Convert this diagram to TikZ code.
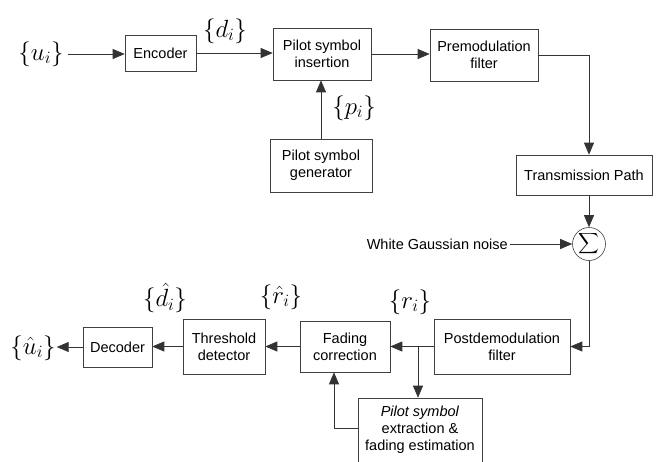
\documentclass[tikz,border=0pt]{standalone}
\usepackage{exscale}
\usepackage[no-math]{fontspec}
\setmainfont{Liberation Sans}
\usetikzlibrary{arrows.meta}
\begin{document}
\begin{tikzpicture}[x=1pt,y=-1pt,
  blk/.style={draw=black!75,line width=0.6pt,align=center,inner sep=0pt,font=\fontsize{14.5}{17}\selectfont},
  lbl/.style={inner sep=0pt,font=\fontsize{25}{27}\selectfont},
  conn/.style={draw=black!80,line width=0.7pt},
  arr/.style={conn,-{Triangle[length=12pt,width=10pt]}}]
\useasboundingbox (0,0) rectangle (656,461);
% blocks
\node[blk,minimum width=71pt,minimum height=36pt] (enc) at (160.5,53) {Encoder};
\node[blk,minimum width=98pt,minimum height=52pt] (ins) at (322,54) {Pilot symbol\\insertion};
\node[blk,minimum width=102pt,minimum height=53pt] (gen) at (321,165.5) {Pilot symbol\\generator};
\node[blk,minimum width=108pt,minimum height=52pt] (pre) at (484,55) {Premodulation\\filter};
\node[blk,minimum width=136pt,minimum height=40pt] (tp) at (584,175) {Transmission Path};
\node[draw=black!75,line width=0.6pt,circle,minimum size=33pt,inner sep=0pt,font=\fontsize{15}{15}\selectfont] (sig) at (589,244) {$\displaystyle\sum$};
\node[inner sep=0pt,anchor=east,font=\fontsize{14.5}{17}\selectfont] (noise) at (508,244) {White Gaussian noise};
\node[blk,minimum width=136pt,minimum height=55pt] (post) at (502,346.5) {Postdemodulation\\filter};
\node[blk,minimum width=90pt,minimum height=51pt] (fad) at (345,346.5) {Fading\\correction};
\node[blk,minimum width=124pt,minimum height=64pt] (ext) at (420,430) {\textit{Pilot symbol}\\extraction \&\\fading estimation};
\node[blk,minimum width=82pt,minimum height=55pt] (thr) at (224,346.5) {Threshold\\detector};
\node[blk,minimum width=69pt,minimum height=40pt] (dec) at (117.5,347) {Decoder};
% labels
\node[lbl] (uin) at (41,54) {$\{u_i\}$};
\node[lbl] (dl) at (225,31) {$\{d_i\}$};
\node[lbl] (pl) at (354,108) {$\{p_i\}$};
\node[lbl] (rl) at (410,302) {$\{r_i\}$};
\node[lbl] (rh) at (281,297) {$\{\hat{r}_i\}$};
\node[lbl] (dh) at (165,298) {$\{\hat{d}_i\}$};
\node[lbl] (uh) at (33,348) {$\{\hat{u}_i\}$};
% connectors
\draw[arr,shorten <=4pt] (uin.east) -- (enc.west |- uin.east);
\draw[arr] (enc.east) -- (enc.east -| ins.west);
\draw[arr] (gen.north) -- (gen.north |- ins.south);
\draw[arr] (ins.east) -- (ins.east -| pre.west);
\draw[arr] (pre.east) -| (sig |- tp.north);
\draw[arr] (sig |- tp.south) -- (sig.north);
\draw[arr,shorten <=2pt] (noise.east) -- (sig.west);
\draw[arr] (sig.south) |- (post.east);
\draw[arr] (post.west) -- (fad.east);
\coordinate (br) at (418,346.5);
\draw[arr] (br) -- (br |- ext.north);
\draw[arr] ([yshift=2pt]ext.west) -| ([xshift=-11pt]fad.south);
\draw[arr] (fad.west) -- (thr.east);
\draw[arr] (thr.west) -- (thr.west -| dec.east);
\draw[arr,shorten >=1pt] (dec.west) -- (uh.east |- dec.west);
\end{tikzpicture}
\end{document}
